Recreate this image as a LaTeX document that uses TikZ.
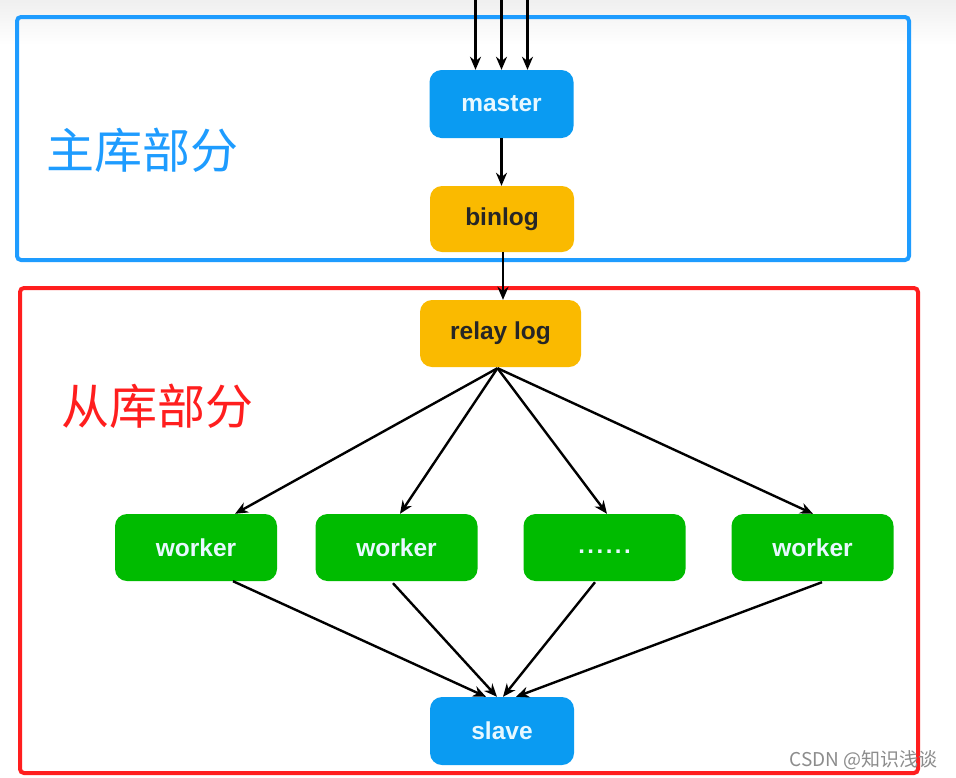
\documentclass[tikz,border=0pt]{standalone}
\usepackage{fontspec}
\setmainfont{Liberation Sans}
\newfontfamily\cjk{Noto Sans CJK SC}
\usetikzlibrary{arrows.meta,calc}
\definecolor{boxblue}{RGB}{30,156,255}
\definecolor{boxred}{RGB}{255,30,30}
\definecolor{nodeblue}{RGB}{10,155,242}
\definecolor{nodeyellow}{RGB}{250,186,0}
\definecolor{nodegreen}{RGB}{0,187,0}
\definecolor{lighttext}{RGB}{232,248,255}
\tikzset{
  box/.style={rounded corners=12pt, minimum height=67pt, inner sep=0pt, font=\fontsize{24.5}{24.5}\selectfont\bfseries},
  bluebox/.style={box, fill=nodeblue, text=lighttext, minimum width=144pt},
  yellowbox/.style={box, fill=nodeyellow, text=black!85},
  greenbox/.style={box, fill=nodegreen, text=lighttext, minimum width=162pt},
  arr/.style={line width=2.4pt, -{Stealth[length=13pt,width=11pt]}},
  frame/.style={line width=4pt, rounded corners=4pt},
}
\begin{document}
\begin{tikzpicture}[x=1pt,y=-1pt]
\useasboundingbox (0,0) rectangle (956,777);
\fill[white] (0,0) rectangle (956,777);
\shade[top color=black!6, bottom color=white] (0,0) rectangle (956,45);

\draw[frame, boxblue] (17,17) rectangle (909,260);
\draw[frame, boxred] (20,288) rectangle (918,773);

\node[text=boxblue, font=\cjk\fontsize{48}{48}\selectfont, anchor=west] (lblmain) at (43,150) {主库部分};
\node[text=boxred, font=\cjk\fontsize{48}{48}\selectfont, anchor=west] (lblslave) at (58,406) {从库部分};

\node[bluebox, minimum height=68pt] (master) at (501.5,104) {master};
\node[yellowbox, minimum width=144pt, minimum height=66pt] (binlog) at (502,219) {binlog};
\node[yellowbox, minimum width=161pt] (relay) at (500.5,333.5) {relay log};

\node[greenbox] (w1) at (196,547.5) {worker};
\node[greenbox] (w2) at (396.5,547.5) {worker};
\node[greenbox] (w3) at (604.5,547.5) {};
\node[text=lighttext, font=\fontsize{24}{24}\selectfont\bfseries] (dots) at (604.5,552) {.\kern2.5pt.\kern2.5pt.\kern2.5pt.\kern2.5pt.\kern2.5pt.};
\node[greenbox] (w4) at (812.5,547.5) {worker};

\node[bluebox, minimum height=68pt] (slave) at (502,731) {slave};

\node[text=black!45, font=\cjk\fontsize{19}{19}\selectfont, anchor=east] (wm) at (941,760) {CSDN @知识浅谈};

% incoming arrows to master
\coordinate (in1) at (475.5,0);
\coordinate (in2) at (501.5,0);
\coordinate (in3) at (527.5,0);
\draw[arr] (in1) -- ($(master.north)+(-26,0)$);
\draw[arr] (in2) -- (master.north);
\draw[arr] (in3) -- ($(master.north)+(26,0)$);

\draw[arr] (master.south) -- (binlog.north -| master.south);
\draw[arr] ($(binlog.south)+(1,0)$) -- ($(relay.north)+(2.5,0)$);

% relay log -> workers
\coordinate (rs) at ($(relay.south)+(-3,1)$);
\draw[arr] (rs) -- ($(w1.north)+(39,0)$);
\draw[arr] (rs) -- ($(w2.north)+(3.5,0)$);
\draw[arr] (rs) -- ($(w3.north)+(2.5,0)$);
\draw[arr] (rs) -- ($(w4.north)+(0.5,0)$);

% workers -> slave
\draw[arr] ($(w1.south)+(37,0)$) -- ($(slave.north)+(-16,0)$);
\draw[arr] ($(w2.south)+(-3.5,2)$) -- ($(slave.north)+(-5,0)$);
\draw[arr] ($(w3.south)+(-9.5,1)$) -- ($(slave.north)+(1,0)$);
\draw[arr] ($(w4.south)+(9.5,1)$) -- ($(slave.north)+(14,0)$);
\end{tikzpicture}
\end{document}
